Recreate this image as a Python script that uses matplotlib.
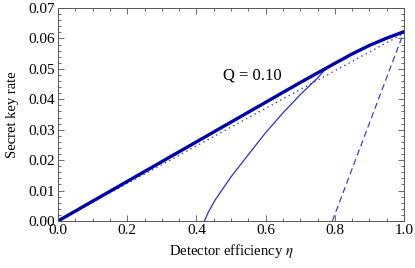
import numpy as np
import matplotlib.pyplot as plt
from matplotlib.ticker import MultipleLocator

# curves
eta_thick = [0.0, 0.2, 0.4, 0.6, 0.7, 0.8, 0.85, 0.9, 0.95, 1.0]
rate_thick = [0.0, 0.013, 0.026, 0.039, 0.0455, 0.0518, 0.0549, 0.0577, 0.0601, 0.0622]

eta_dot = [0.0, 1.0]
rate_dot = [0.0, 0.0617]

eta_thin = [0.423, 0.435, 0.454, 0.5, 0.55, 0.6, 0.65, 0.7, 0.75, 0.77, 0.8, 0.85, 0.9, 0.95, 1.0]
rate_thin = [0.0, 0.003, 0.0069, 0.0145, 0.0218, 0.029, 0.0355, 0.0415, 0.047, 0.0495, 0.0518, 0.0549, 0.0577, 0.0601, 0.0622]

eta_dash = [0.793, 1.0]
rate_dash = [0.0, 0.0622]

plt.rcParams['font.family'] = ['Liberation Serif']
plt.rcParams['mathtext.fontset'] = 'stix'

fig = plt.figure(figsize=(4.15, 2.68), dpi=100)
ax = fig.add_axes([58 / 415, 1 - 221 / 268, 346 / 415, 213 / 268])

ax.plot(eta_dot, rate_dot, ':', color='#4040d0', linewidth=1.0, dashes=(1, 2.5))
ax.plot(eta_dash, rate_dash, '--', color='#4040d0', linewidth=0.9, dashes=(5, 3))
ax.plot(eta_thin, rate_thin, '-', color='#3030c8', linewidth=0.9)
ax.plot(eta_thick, rate_thick, '-', color='#0000a8', linewidth=2.4)

ax.text(0.561, 0.0477, 'Q = 0.10', fontsize=12, ha='center', va='center')

ax.set_xlim(0, 1)
ax.set_ylim(0, 0.07)
ax.xaxis.set_major_locator(MultipleLocator(0.2))
ax.xaxis.set_minor_locator(MultipleLocator(0.05))
ax.yaxis.set_major_locator(MultipleLocator(0.01))
ax.yaxis.set_minor_locator(MultipleLocator(0.002))
ax.xaxis.set_major_formatter(plt.FuncFormatter(lambda v, p: '%.1f' % v))
ax.yaxis.set_major_formatter(plt.FuncFormatter(lambda v, p: '%.2f' % v))
ax.tick_params(which='both', direction='in', top=True, right=True, labelsize=11, width=0.6, color='#555555')
ax.tick_params(which='major', length=4, pad=2)
ax.tick_params(which='minor', length=2)
for s in ax.spines.values():
    s.set_linewidth(0.7)
    s.set_color('#555555')

ax.set_xlabel('Detector efficiency $\\eta$', fontsize=10.5, labelpad=4)
ax.set_ylabel('Secret key rate', fontsize=10.5, labelpad=7)

fig.savefig('out.png', dpi=100)
